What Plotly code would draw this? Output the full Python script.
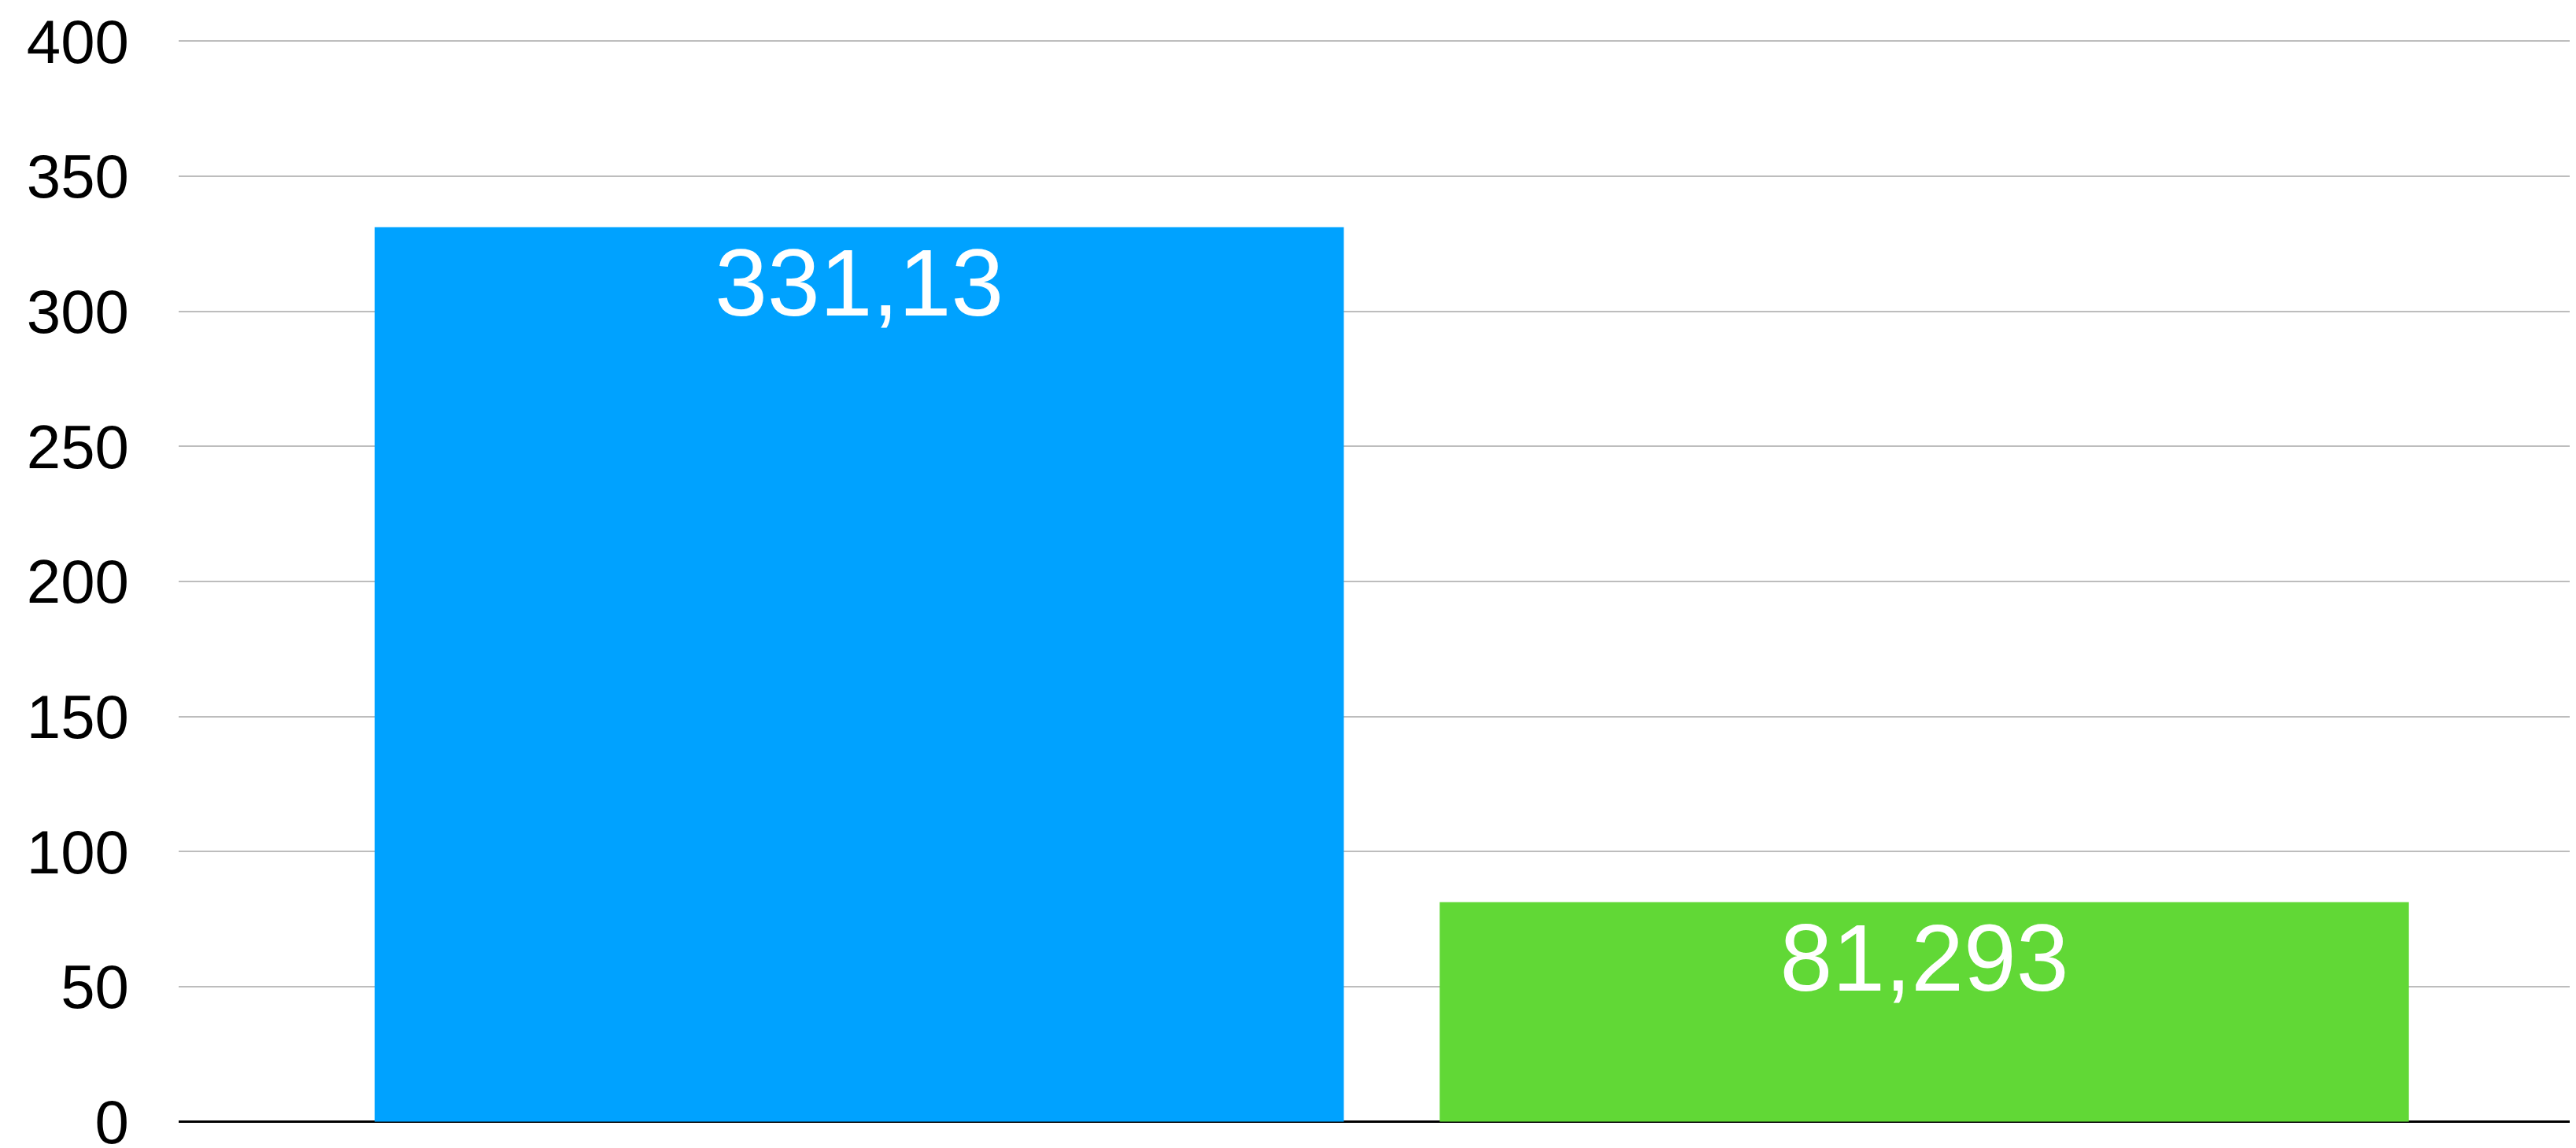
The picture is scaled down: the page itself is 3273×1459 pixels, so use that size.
import plotly.graph_objects as go

categories = ["A", "B"]
values = [331.13, 81.293]
labels = ["331,13", "81,293"]
colors = ["#00A2FF", "#61D836"]
y_ticks = [0, 50, 100, 150, 200, 250, 300, 350, 400]

fig = go.Figure(
    go.Bar(
        x=categories,
        y=values,
        text=labels,
        textposition="inside",
        insidetextanchor="end",
        textangle=0,
        textfont={"family": "Arial", "size": 120, "color": "white"},
        marker={"color": colors, "line": {"width": 0}},
        width=0.91,
    )
)

# the page body has an 8px margin, so keep the figure inside the window
fig.update_layout(
    width=3257,
    height=1451,
    margin={"l": 219, "r": 0, "t": 41, "b": 30},
    paper_bgcolor="white",
    plot_bgcolor="white",
    showlegend=False,
)

fig.update_xaxes(
    range=[-0.639, 1.606],
    showticklabels=False,
    showgrid=False,
    showline=False,
    ticks="",
    automargin=False,
)

fig.update_yaxes(
    range=[-1, 401],
    tickvals=y_ticks,
    showgrid=True,
    gridcolor="#bdbdbd",
    gridwidth=2,
    zeroline=True,
    zerolinecolor="black",
    zerolinewidth=3,
    ticklabelstandoff=62,
    ticklabeloverflow="allow",
    automargin=False,
    tickfont={"family": "Arial", "size": 78, "color": "black"},
)

fig.write_html("out.html")
